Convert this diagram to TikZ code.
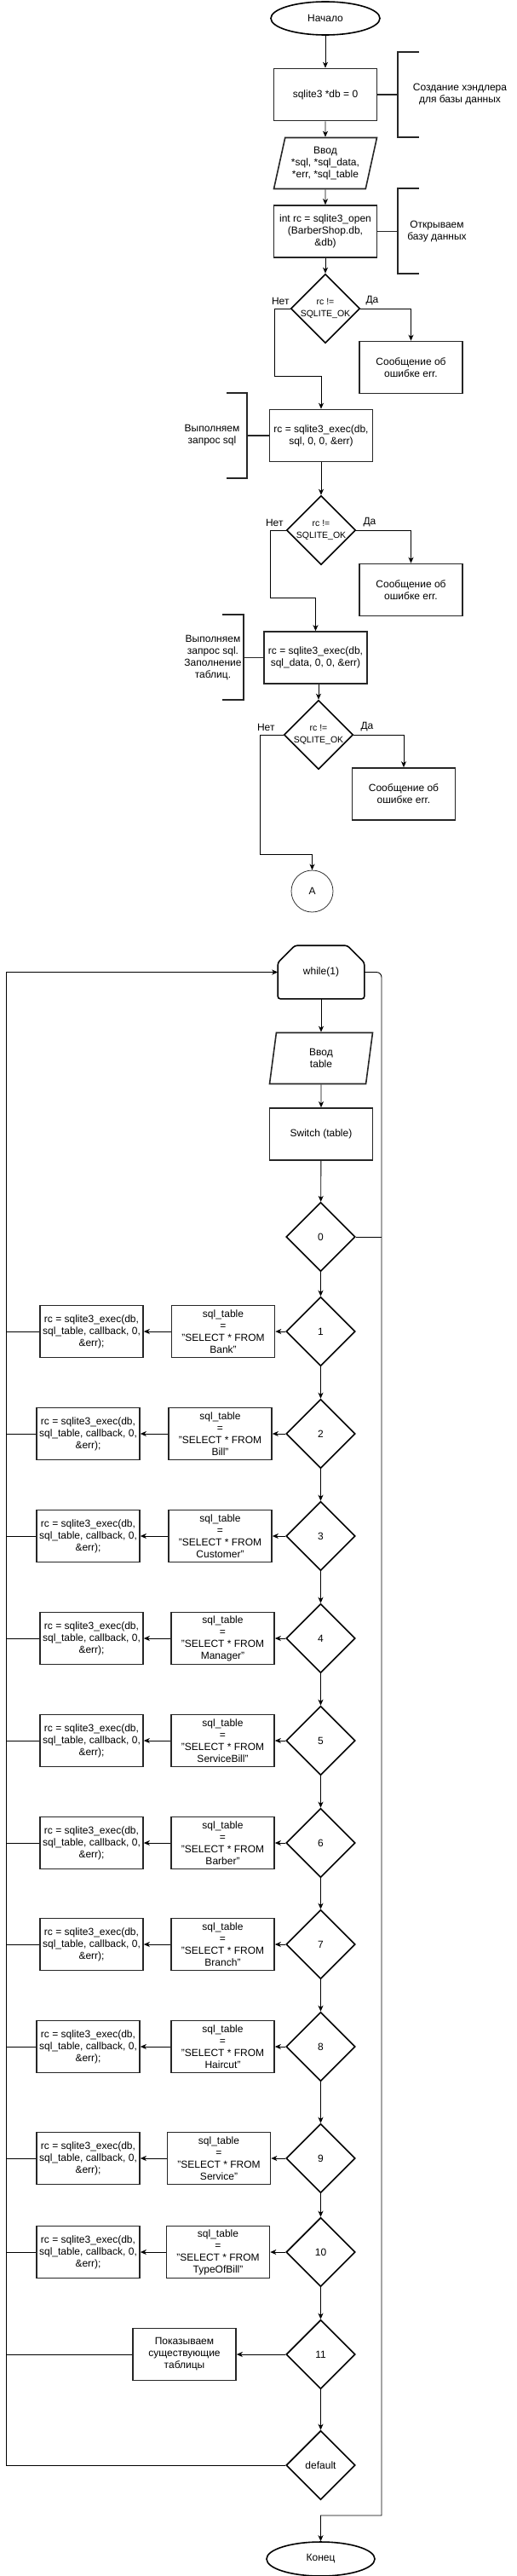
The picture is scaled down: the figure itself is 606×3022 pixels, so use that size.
\documentclass[tikz,border=0pt]{standalone}
\usepackage{fontspec}
\setmainfont{Liberation Sans}
\usetikzlibrary{calc,arrows.meta,positioning,shapes.geometric}

\newcommand{\boxfont}{\fontsize{12}{14}\selectfont}
\newcommand{\condfont}{\fontsize{10.5}{14}\selectfont}

\begin{document}
\begin{tikzpicture}[x=1pt,y=-1pt,every node/.style={font=\boxfont}]

\tikzset{
block/.style={draw=black!85,line width=1.6pt,minimum width=121pt,minimum height=61pt,align=center,inner sep=1pt},
inout/.style={trapezium,trapezium left angle=72,trapezium right angle=108,trapezium stretches body,draw=black!85,line width=1.6pt,minimum width=121pt,minimum height=60pt,align=center,inner sep=1pt},
decide/.style={diamond,draw=black,line width=1.6pt,minimum width=81pt,minimum height=81pt,inner sep=0pt,align=center},
term/.style={ellipse,draw=black,line width=1.6pt,minimum width=128pt,minimum height=39pt},
conn/.style={circle,draw=black!80,line width=0.8pt,minimum size=49pt,inner sep=0pt},
note/.style={align=center,inner sep=0pt},
cond/.style={align=center,inner sep=0pt,font=\condfont},
flow/.style={->,>={Stealth[length=7pt,width=6pt,inset=2pt]},line width=0.9pt},
link/.style={line width=0.9pt},
brace/.style={line width=1.6pt,draw=black!85},
outline/.style={line width=1.6pt,draw=black,rounded corners=3pt}
}

\useasboundingbox (0,0) rectangle (606,3022);

% Nodes, first part
\node[term] (start) at (382,21.5) {Начало};
\node[block] (init) at (382,111) {sqlite3 *db = 0};
\node[inout] (vars) at (382,191.5) {Ввод\\*sql, *sql\_data,\\*err, *sql\_table};
\node[block] (open) at (382,271.5) {int rc = sqlite3\_open\\(BarberShop.db,\\\&db)};

\node[decide] (chk1) at (382,362) {};
\node[cond] (chk1txt) at (chk1) {rc !=\\SQLITE\_OK};
\node[block] (err1) at (482.5,431) {Сообщение об\\ошибке err.};
\node[block] (exec1) at (377,511) {rc = sqlite3\_exec(db,\\sql, 0, 0, \&err)};

\node[decide] (chk2) at (377,622) {};
\node[cond] (chk2txt) at (chk2) {rc !=\\SQLITE\_OK};
\node[block] (err2) at (482.5,692) {Сообщение об\\ошибке err.};
\node[block] (exec2) at (370.5,771.5) {rc = sqlite3\_exec(db,\\sql\_data, 0, 0, \&err)};

\node[decide] (chk3) at (374,862) {};
\node[cond] (chk3txt) at (chk3) {rc !=\\SQLITE\_OK};
\node[block] (err3) at (474,931.5) {Сообщение об\\ошибке err.};
\node[conn] (pageA) at (366.5,1045.5) {A};

% Yes / no labels
\node[note,above left=4pt and 1pt of chk1.west] (no1lab) {Нет};
\node[note,above right=4pt and 6pt of chk1.east] (yes1lab) {Да};
\node[note,above left=4pt and 3pt of chk2.west] (no2lab) {Нет};
\node[note,above right=4pt and 8pt of chk2.east] (yes2lab) {Да};
\node[note,above left=4pt and 10pt of chk3.west] (no3lab) {Нет};
\node[note,above right=4pt and 8pt of chk3.east] (yes3lab) {Да};

% Brackets with comments
\coordinate (br1) at (467,111);
\coordinate (br2) at (467,271.5);
\coordinate (br3) at (290,511);
\coordinate (br4) at (286,771.5);

\draw[brace] (492,61) -- (467,61) -- (467,161) -- (492,161);
\draw[brace] (init.east) -- (br1);
\draw[brace] (492,221) -- (467,221) -- (467,321) -- (492,321);
\draw[brace] (open.east) -- (br2);
\draw[brace] (266,461) -- (290,461) -- (290,561) -- (266,561);
\draw[brace] (br3) -- (exec1.west);
\draw[brace] (261,721) -- (286,721) -- (286,821) -- (261,821);
\draw[brace] (br4) -- (exec2.west);

\node[note] (note1) at (540,111) {Создание хэндлера\\для базы данных};
\node[note] (note2) at (513,271.5) {Открываем\\базу данных};
\node[note] (note3) at (249,511) {Выполняем\\запрос sql};
\node[note] (note4) at (250,771.5) {Выполняем\\запрос sql.\\Заполнение\\таблиц.};

% Connectors, first part
\coordinate (no1) at (322,441);
\coordinate (no2) at (317,701);
\coordinate (no3) at (305,1002);

\draw[flow] (start) -- (init);
\draw[flow] (init) -- (vars);
\draw[flow] (vars) -- (open);
\draw[flow] (open) -- (chk1);
\draw[flow] (chk1.east) -| (err1.north);
\draw[flow] (chk1.west) -| (no1) -| (exec1.north);
\draw[flow] (exec1) -- (chk2);
\draw[flow] (chk2.east) -| (err2.north);
\draw[flow] (chk2.west) -| (no2) -| (exec2.north);
\draw[flow] (exec2.south -| chk3.north) -- (chk3.north);
\draw[flow] (chk3.east) -| (err3.north);
\draw[flow] (chk3.west) -| (no3) -| (pageA.north);

% Nodes, loop part
\node[block,draw=none,minimum width=100pt] (loop) at (377,1140.5) {while(1)};
\draw[outline] ($(loop.north west)+(0,20)$) -- ($(loop.north west)+(20,0)$) -- ($(loop.north east)+(-20,0)$) -- ($(loop.north east)+(0,20)$) -- (loop.south east) -- (loop.south west) -- cycle;
\node[inout] (pick) at (377,1241.5) {Ввод\\table};
\node[block] (sw) at (377,1330.5) {Switch (table)};

\node[decide] (c0) at (376.5,1451) {0};
\node[decide] (c1) at (376.5,1562) {1};
\node[decide] (c2) at (376.5,1682) {2};
\node[decide] (c3) at (376.5,1802) {3};
\node[decide] (c4) at (376.5,1922) {4};
\node[decide] (c5) at (376.5,2042) {5};
\node[decide] (c6) at (376.5,2162) {6};
\node[decide] (c7) at (376.5,2281) {7};
\node[decide] (c8) at (376.5,2401) {8};
\node[decide] (c9) at (376.5,2532) {9};
\node[decide] (c10) at (376.5,2642) {10};
\node[decide] (c11) at (376.5,2762) {11};
\node[decide] (cdef) at (376.5,2892) {default};
\node[term,minimum width=127pt,minimum height=40pt] (finish) at (376.5,3002) {Конец};

\node[block] (q1) at (262,1562) {sql\_table\\=\\"SELECT * FROM\\Bank"};
\node[block] (q2) at (258.5,1682) {sql\_table\\=\\"SELECT * FROM\\Bill"};
\node[block] (q3) at (258.5,1802) {sql\_table\\=\\"SELECT * FROM\\Customer"};
\node[block] (q4) at (261.5,1922) {sql\_table\\=\\"SELECT * FROM\\Manager"};
\node[block] (q5) at (261.5,2042) {sql\_table\\=\\"SELECT * FROM\\ServiceBill"};
\node[block] (q6) at (261.5,2162) {sql\_table\\=\\"SELECT * FROM\\Barber"};
\node[block] (q7) at (261.5,2281) {sql\_table\\=\\"SELECT * FROM\\Branch"};
\node[block] (q8) at (261.5,2401) {sql\_table\\=\\"SELECT * FROM\\Haircut"};
\node[block] (q9) at (257,2532) {sql\_table\\=\\"SELECT * FROM\\Service"};
\node[block] (q10) at (256,2642) {sql\_table\\=\\"SELECT * FROM\\TypeOfBill"};

\node[block] (x1) at (107.5,1562) {rc = sqlite3\_exec(db,\\sql\_table, callback, 0,\\\&err);};
\node[block] (x2) at (103.5,1682) {rc = sqlite3\_exec(db,\\sql\_table, callback, 0,\\\&err);};
\node[block] (x3) at (103.5,1802) {rc = sqlite3\_exec(db,\\sql\_table, callback, 0,\\\&err);};
\node[block] (x4) at (107.5,1922) {rc = sqlite3\_exec(db,\\sql\_table, callback, 0,\\\&err);};
\node[block] (x5) at (107.5,2042) {rc = sqlite3\_exec(db,\\sql\_table, callback, 0,\\\&err);};
\node[block] (x6) at (107.5,2162) {rc = sqlite3\_exec(db,\\sql\_table, callback, 0,\\\&err);};
\node[block] (x7) at (107.5,2281) {rc = sqlite3\_exec(db,\\sql\_table, callback, 0,\\\&err);};
\node[block] (x8) at (103.5,2401) {rc = sqlite3\_exec(db,\\sql\_table, callback, 0,\\\&err);};
\node[block] (x9) at (103.5,2532) {rc = sqlite3\_exec(db,\\sql\_table, callback, 0,\\\&err);};
\node[block] (x10) at (103.5,2642) {rc = sqlite3\_exec(db,\\sql\_table, callback, 0,\\\&err);};

\node[block] (show) at (216.5,2762) {Показываем\\существующие\\таблицы};

% Connectors, loop part
\coordinate (lt) at (7,1140.5);
\coordinate (rt) at (448,1140.5);
\coordinate (rb) at (448,2951);

\draw[flow] (loop) -- (pick);
\draw[flow] (pick) -- (sw);
\draw[flow] (sw) -- (c0);
\draw[flow] (c0) -- (c1);
\draw[flow] (c1) -- (c2);
\draw[flow] (c2) -- (c3);
\draw[flow] (c3) -- (c4);
\draw[flow] (c4) -- (c5);
\draw[flow] (c5) -- (c6);
\draw[flow] (c6) -- (c7);
\draw[flow] (c7) -- (c8);
\draw[flow] (c8) -- (c9);
\draw[flow] (c9) -- (c10);
\draw[flow] (c10) -- (c11);
\draw[flow] (c11) -- (cdef);

\draw[flow] (c1) -- (q1); \draw[flow] (q1) -- (x1); \draw[link] (x1.west) -- (x1.west -| lt);
\draw[flow] (c2) -- (q2); \draw[flow] (q2) -- (x2); \draw[link] (x2.west) -- (x2.west -| lt);
\draw[flow] (c3) -- (q3); \draw[flow] (q3) -- (x3); \draw[link] (x3.west) -- (x3.west -| lt);
\draw[flow] (c4) -- (q4); \draw[flow] (q4) -- (x4); \draw[link] (x4.west) -- (x4.west -| lt);
\draw[flow] (c5) -- (q5); \draw[flow] (q5) -- (x5); \draw[link] (x5.west) -- (x5.west -| lt);
\draw[flow] (c6) -- (q6); \draw[flow] (q6) -- (x6); \draw[link] (x6.west) -- (x6.west -| lt);
\draw[flow] (c7) -- (q7); \draw[flow] (q7) -- (x7); \draw[link] (x7.west) -- (x7.west -| lt);
\draw[flow] (c8) -- (q8); \draw[flow] (q8) -- (x8); \draw[link] (x8.west) -- (x8.west -| lt);
\draw[flow] (c9) -- (q9); \draw[flow] (q9) -- (x9); \draw[link] (x9.west) -- (x9.west -| lt);
\draw[flow] (c10) -- (q10); \draw[flow] (q10) -- (x10); \draw[link] (x10.west) -- (x10.west -| lt);
\draw[flow] (c11) -- (show); \draw[link] (show.west) -- (show.west -| lt);

\draw[flow] (cdef.west) -| (lt) -- (loop.west);
\draw[link] (c0.east) -- (c0.east -| rt);
\draw[flow] (loop.east) [rounded corners=6pt] -- (rt) [sharp corners] -- (rb) -| (finish.north);

\end{tikzpicture}
\end{document}
